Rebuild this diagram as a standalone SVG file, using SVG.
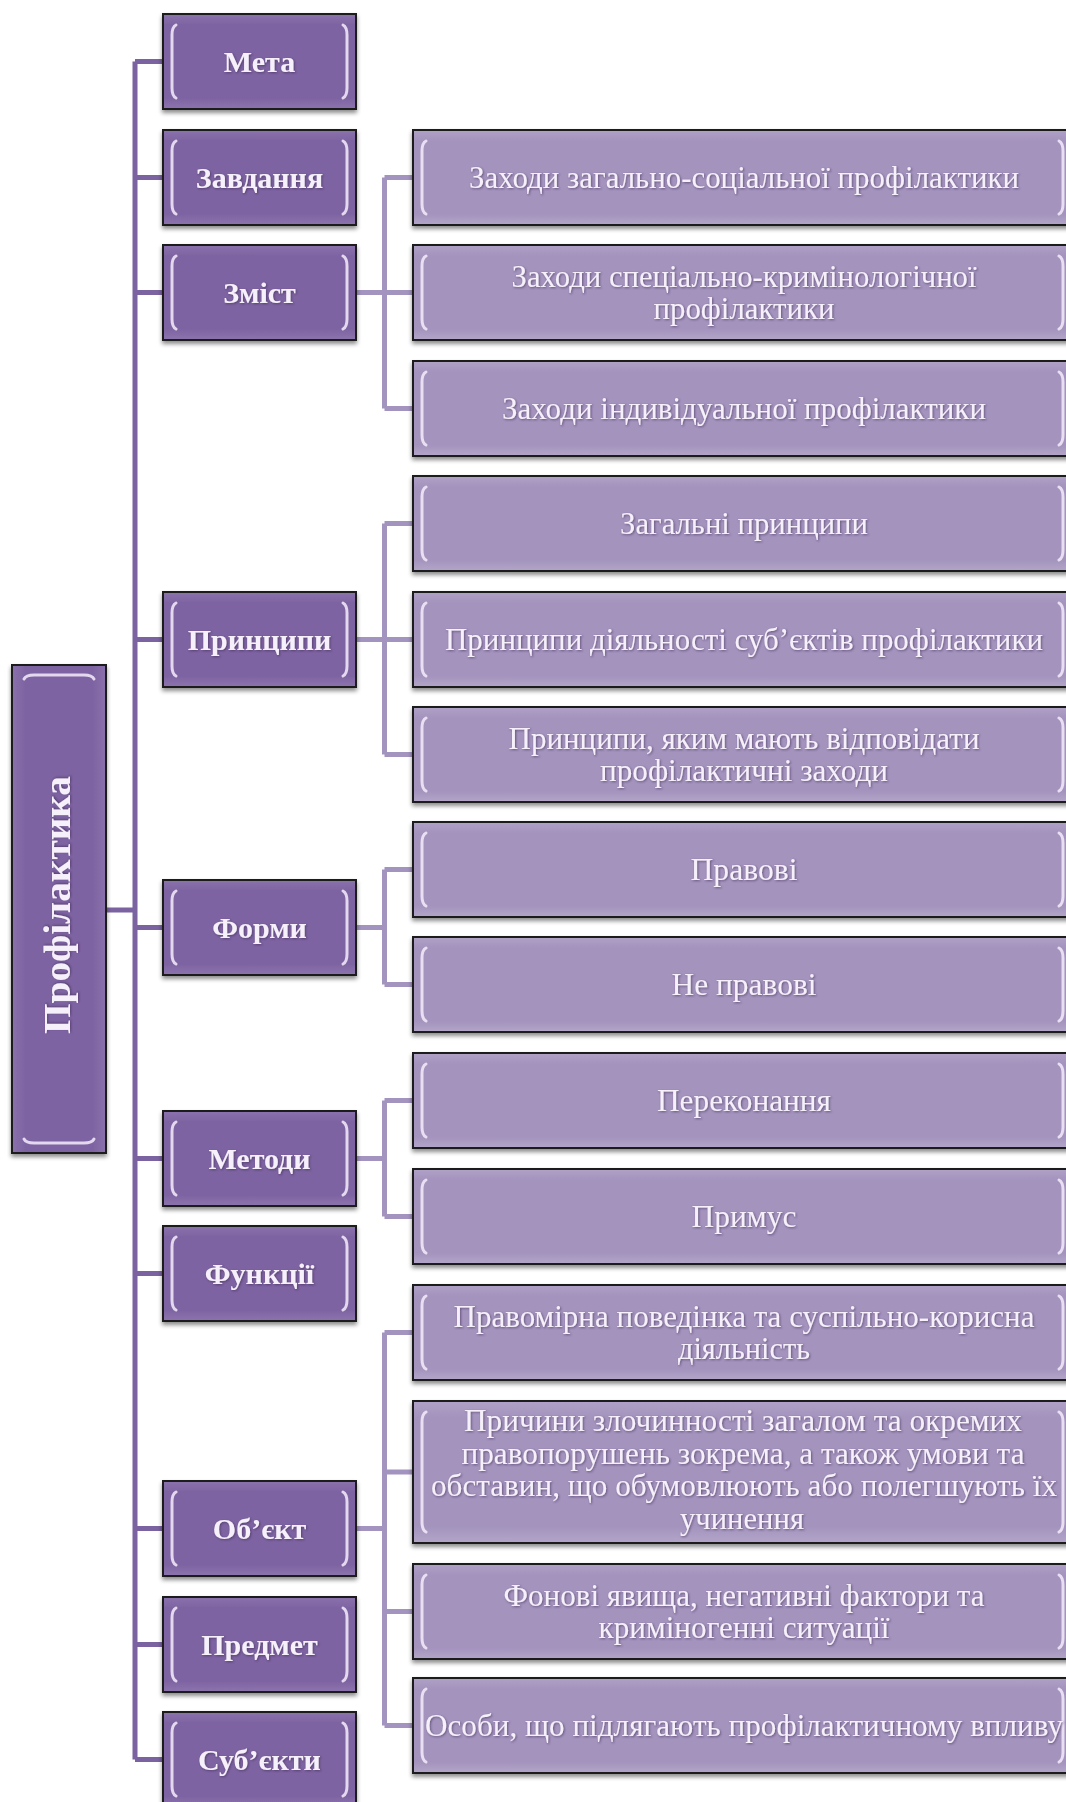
<svg xmlns="http://www.w3.org/2000/svg" width="1066" height="1802" viewBox="0 0 1066 1802">
<defs>
<filter id="sh" x="-5%" y="-10%" width="110%" height="125%">
<feDropShadow dx="0" dy="3" stdDeviation="2" flood-color="#000" flood-opacity="0.45"/>
</filter>
<filter id="ts" x="-5%" y="-20%" width="110%" height="140%">
<feDropShadow dx="1" dy="1" stdDeviation="0.8" flood-color="#3a2850" flood-opacity="0.6"/>
</filter>
<linearGradient id="gl" x1="0" y1="0" x2="0" y2="1">
<stop offset="0" stop-color="#8b72ad"/>
<stop offset="0.12" stop-color="#7d63a1"/>
<stop offset="0.88" stop-color="#7d63a1"/>
<stop offset="1" stop-color="#8d74ae"/>
</linearGradient>
<linearGradient id="gr" x1="0" y1="0" x2="0" y2="1">
<stop offset="0" stop-color="#b0a1c7"/>
<stop offset="0.12" stop-color="#a393bd"/>
<stop offset="0.88" stop-color="#a393bd"/>
<stop offset="1" stop-color="#b3a5c9"/>
</linearGradient>
<linearGradient id="gv" x1="0" y1="0" x2="1" y2="0">
<stop offset="0" stop-color="#8a70ac"/>
<stop offset="0.15" stop-color="#7d63a1"/>
<stop offset="0.85" stop-color="#7d63a1"/>
<stop offset="1" stop-color="#8a70ac"/>
</linearGradient>
</defs>
<style>
.lb{fill:url(#gl);stroke:#1c1c1c;stroke-width:2;filter:url(#sh)}
.rb{fill:url(#gr);stroke:#1c1c1c;stroke-width:2;filter:url(#sh)}
.vb{fill:url(#gv);stroke:#1c1c1c;stroke-width:2;filter:url(#sh)}
.hl{fill:none;stroke:#f4ecfc;stroke-width:3;stroke-linecap:round;opacity:0.85}
.lt{font-family:"Liberation Serif","Times New Roman",serif;font-weight:bold;font-size:30px;fill:#f6f0fb;text-anchor:middle;filter:url(#ts)}
.rt{font-family:"Liberation Serif","Times New Roman",serif;font-size:31px;fill:#f6f0fb;text-anchor:middle;filter:url(#ts)}
.vt{font-family:"Liberation Serif","Times New Roman",serif;font-weight:bold;font-size:38px;fill:#f6f0fb;text-anchor:middle;filter:url(#ts)}
.c1{fill:none;stroke:#7b62a0;stroke-width:5}
.c2{fill:none;stroke:#a393bf;stroke-width:5}
</style>

<g id="connectors">
<path class="c1" d="M135 61.5 V1759.5 M106 910 H135 M135 61.5 H163 M135 177.5 H163 M135 292.5 H163 M135 639.5 H163 M135 927.5 H163 M135 1158.5 H163 M135 1273.5 H163 M135 1528.5 H163 M135 1644.5 H163 M135 1759.5 H163"/>
<path class="c2" d="M356 292.5 H384.5 M384.5 177.5 V408.5 M384.5 177.5 H413 M384.5 292.5 H413 M384.5 408.5 H413"/>
<path class="c2" d="M356 639.5 H384.5 M384.5 523.5 V754.5 M384.5 523.5 H413 M384.5 639.5 H413 M384.5 754.5 H413"/>
<path class="c2" d="M356 927.5 H384.5 M384.5 869.5 V984.5 M384.5 869.5 H413 M384.5 984.5 H413"/>
<path class="c2" d="M356 1158.5 H384.5 M384.5 1100.5 V1216.5 M384.5 1100.5 H413 M384.5 1216.5 H413"/>
<path class="c2" d="M356 1528.5 H384.5 M384.5 1332.5 V1725.5 M384.5 1332.5 H413 M384.5 1472 H413 M384.5 1611.5 H413 M384.5 1725.5 H413"/>
</g>

<g id="n-profilaktyka">
<rect class="vb" x="12" y="665" width="94" height="488"/>
<path class="hl" d="M24 679 Q26 675 34 675 H84 Q92 675 94 679"/>
<path class="hl" d="M24 1139 Q26 1143 34 1143 H84 Q92 1143 94 1139"/>
<text class="vt" transform="translate(70 905) rotate(-90)" x="0" y="0" textLength="258" lengthAdjust="spacingAndGlyphs">Профілактика</text>
</g>

<g id="n-meta" transform="translate(0 14)">
<rect class="lb" x="163" y="0" width="193" height="95"/>
<path class="hl" d="M176 11 Q172 13 172 21 V74 Q172 82 176 84"/>
<path class="hl" d="M343 11 Q347 13 347 21 V74 Q347 82 343 84"/>
<text class="lt" x="259.5" y="57.5">Мета</text>
</g>
<g id="n-zavdannia" transform="translate(0 130)">
<rect class="lb" x="163" y="0" width="193" height="95"/>
<path class="hl" d="M176 11 Q172 13 172 21 V74 Q172 82 176 84"/>
<path class="hl" d="M343 11 Q347 13 347 21 V74 Q347 82 343 84"/>
<text class="lt" x="259.5" y="57.5">Завдання</text>
</g>
<g id="n-zmist" transform="translate(0 245)">
<rect class="lb" x="163" y="0" width="193" height="95"/>
<path class="hl" d="M176 11 Q172 13 172 21 V74 Q172 82 176 84"/>
<path class="hl" d="M343 11 Q347 13 347 21 V74 Q347 82 343 84"/>
<text class="lt" x="259.5" y="57.5">Зміст</text>
</g>
<g id="n-pryntsypy" transform="translate(0 592)">
<rect class="lb" x="163" y="0" width="193" height="95"/>
<path class="hl" d="M176 11 Q172 13 172 21 V74 Q172 82 176 84"/>
<path class="hl" d="M343 11 Q347 13 347 21 V74 Q347 82 343 84"/>
<text class="lt" x="259.5" y="57.5">Принципи</text>
</g>
<g id="n-formy" transform="translate(0 880)">
<rect class="lb" x="163" y="0" width="193" height="95"/>
<path class="hl" d="M176 11 Q172 13 172 21 V74 Q172 82 176 84"/>
<path class="hl" d="M343 11 Q347 13 347 21 V74 Q347 82 343 84"/>
<text class="lt" x="259.5" y="57.5">Форми</text>
</g>
<g id="n-metody" transform="translate(0 1111)">
<rect class="lb" x="163" y="0" width="193" height="95"/>
<path class="hl" d="M176 11 Q172 13 172 21 V74 Q172 82 176 84"/>
<path class="hl" d="M343 11 Q347 13 347 21 V74 Q347 82 343 84"/>
<text class="lt" x="259.5" y="57.5">Методи</text>
</g>
<g id="n-funktsii" transform="translate(0 1226)">
<rect class="lb" x="163" y="0" width="193" height="95"/>
<path class="hl" d="M176 11 Q172 13 172 21 V74 Q172 82 176 84"/>
<path class="hl" d="M343 11 Q347 13 347 21 V74 Q347 82 343 84"/>
<text class="lt" x="259.5" y="57.5">Функції</text>
</g>
<g id="n-obiekt" transform="translate(0 1481)">
<rect class="lb" x="163" y="0" width="193" height="95"/>
<path class="hl" d="M176 11 Q172 13 172 21 V74 Q172 82 176 84"/>
<path class="hl" d="M343 11 Q347 13 347 21 V74 Q347 82 343 84"/>
<text class="lt" x="259.5" y="57.5">Об’єкт</text>
</g>
<g id="n-predmet" transform="translate(0 1597)">
<rect class="lb" x="163" y="0" width="193" height="95"/>
<path class="hl" d="M176 11 Q172 13 172 21 V74 Q172 82 176 84"/>
<path class="hl" d="M343 11 Q347 13 347 21 V74 Q347 82 343 84"/>
<text class="lt" x="259.5" y="57.5">Предмет</text>
</g>
<g id="n-subiekty" transform="translate(0 1712)">
<rect class="lb" x="163" y="0" width="193" height="95"/>
<path class="hl" d="M176 11 Q172 13 172 21 V74 Q172 82 176 84"/>
<path class="hl" d="M343 11 Q347 13 347 21 V74 Q347 82 343 84"/>
<text class="lt" x="259.5" y="57.5">Суб’єкти</text>
</g>

<g id="n-zahalno-sotsialnoi" transform="translate(0 130)">
<rect class="rb" x="413" y="0" width="659" height="95"/>
<path class="hl" d="M426 11 Q422 13 422 21 V74 Q422 82 426 84"/>
<path class="hl" d="M1059 11 Q1063 13 1063 21 V74 Q1063 82 1059 84"/>
<text class="rt" x="744" y="57.5" textLength="550" lengthAdjust="spacingAndGlyphs">Заходи загально-соціальної  профілактики</text>
</g>
<g id="n-spetsialno-kryminolohichnoi" transform="translate(0 245)">
<rect class="rb" x="413" y="0" width="659" height="95"/>
<path class="hl" d="M426 11 Q422 13 422 21 V74 Q422 82 426 84"/>
<path class="hl" d="M1059 11 Q1063 13 1063 21 V74 Q1063 82 1059 84"/>
<text class="rt" x="744" y="41.5" textLength="465" lengthAdjust="spacingAndGlyphs">Заходи спеціально-кримінологічної</text>
<text class="rt" x="744" y="73.5" textLength="181" lengthAdjust="spacingAndGlyphs">профілактики</text>
</g>
<g id="n-indyvidualnoi" transform="translate(0 361)">
<rect class="rb" x="413" y="0" width="659" height="95"/>
<path class="hl" d="M426 11 Q422 13 422 21 V74 Q422 82 426 84"/>
<path class="hl" d="M1059 11 Q1063 13 1063 21 V74 Q1063 82 1059 84"/>
<text class="rt" x="744" y="57.5" textLength="484" lengthAdjust="spacingAndGlyphs">Заходи індивідуальної  профілактики</text>
</g>
<g id="n-zahalni-pryntsypy" transform="translate(0 476)">
<rect class="rb" x="413" y="0" width="659" height="95"/>
<path class="hl" d="M426 11 Q422 13 422 21 V74 Q422 82 426 84"/>
<path class="hl" d="M1059 11 Q1063 13 1063 21 V74 Q1063 82 1059 84"/>
<text class="rt" x="744" y="57.5" textLength="248" lengthAdjust="spacingAndGlyphs">Загальні  принципи</text>
</g>
<g id="n-pryntsypy-diialnosti" transform="translate(0 592)">
<rect class="rb" x="413" y="0" width="659" height="95"/>
<path class="hl" d="M426 11 Q422 13 422 21 V74 Q422 82 426 84"/>
<path class="hl" d="M1059 11 Q1063 13 1063 21 V74 Q1063 82 1059 84"/>
<text class="rt" x="744" y="57.5" textLength="598" lengthAdjust="spacingAndGlyphs">Принципи  діяльності  суб’єктів профілактики</text>
</g>
<g id="n-pryntsypy-zakhody" transform="translate(0 707)">
<rect class="rb" x="413" y="0" width="659" height="95"/>
<path class="hl" d="M426 11 Q422 13 422 21 V74 Q422 82 426 84"/>
<path class="hl" d="M1059 11 Q1063 13 1063 21 V74 Q1063 82 1059 84"/>
<text class="rt" x="744" y="41.5" textLength="471" lengthAdjust="spacingAndGlyphs">Принципи, яким мають відповідати</text>
<text class="rt" x="744" y="73.5" textLength="288" lengthAdjust="spacingAndGlyphs">профілактичні заходи</text>
</g>
<g id="n-pravovi" transform="translate(0 822)">
<rect class="rb" x="413" y="0" width="659" height="95"/>
<path class="hl" d="M426 11 Q422 13 422 21 V74 Q422 82 426 84"/>
<path class="hl" d="M1059 11 Q1063 13 1063 21 V74 Q1063 82 1059 84"/>
<text class="rt" x="744" y="57.5" textLength="107" lengthAdjust="spacingAndGlyphs">Правові</text>
</g>
<g id="n-ne-pravovi" transform="translate(0 937)">
<rect class="rb" x="413" y="0" width="659" height="95"/>
<path class="hl" d="M426 11 Q422 13 422 21 V74 Q422 82 426 84"/>
<path class="hl" d="M1059 11 Q1063 13 1063 21 V74 Q1063 82 1059 84"/>
<text class="rt" x="744" y="57.5" textLength="145" lengthAdjust="spacingAndGlyphs">Не правові</text>
</g>
<g id="n-perekonannia" transform="translate(0 1053)">
<rect class="rb" x="413" y="0" width="659" height="95"/>
<path class="hl" d="M426 11 Q422 13 422 21 V74 Q422 82 426 84"/>
<path class="hl" d="M1059 11 Q1063 13 1063 21 V74 Q1063 82 1059 84"/>
<text class="rt" x="744" y="57.5" textLength="174" lengthAdjust="spacingAndGlyphs">Переконання</text>
</g>
<g id="n-prymus" transform="translate(0 1169)">
<rect class="rb" x="413" y="0" width="659" height="95"/>
<path class="hl" d="M426 11 Q422 13 422 21 V74 Q422 82 426 84"/>
<path class="hl" d="M1059 11 Q1063 13 1063 21 V74 Q1063 82 1059 84"/>
<text class="rt" x="744" y="57.5" textLength="105" lengthAdjust="spacingAndGlyphs">Примус</text>
</g>
<g id="n-pravomirna" transform="translate(0 1285)">
<rect class="rb" x="413" y="0" width="659" height="95"/>
<path class="hl" d="M426 11 Q422 13 422 21 V74 Q422 82 426 84"/>
<path class="hl" d="M1059 11 Q1063 13 1063 21 V74 Q1063 82 1059 84"/>
<text class="rt" x="744" y="41.5" textLength="581" lengthAdjust="spacingAndGlyphs">Правомірна поведінка та суспільно-корисна</text>
<text class="rt" x="744" y="73.5" textLength="132" lengthAdjust="spacingAndGlyphs">діяльність</text>
</g>
<g id="n-prychyny" transform="translate(0 1401)">
<rect class="rb" x="413" y="0" width="659" height="142"/>
<path class="hl" d="M426 11 Q422 13 422 21 V121 Q422 129 426 131"/>
<path class="hl" d="M1059 11 Q1063 13 1063 21 V121 Q1063 129 1059 131"/>
<text class="rt" x="743" y="30" textLength="558" lengthAdjust="spacingAndGlyphs">Причини злочинності загалом та окремих</text>
<text class="rt" x="743" y="62.5" textLength="563" lengthAdjust="spacingAndGlyphs">правопорушень зокрема, а також умови та</text>
<text class="rt" x="744" y="95" textLength="626" lengthAdjust="spacingAndGlyphs">обставин, що обумовлюють або полегшують їх</text>
<text class="rt" x="742" y="127.5" textLength="124" lengthAdjust="spacingAndGlyphs">учинення</text>
</g>
<g id="n-fonovi" transform="translate(0 1564)">
<rect class="rb" x="413" y="0" width="659" height="95"/>
<path class="hl" d="M426 11 Q422 13 422 21 V74 Q422 82 426 84"/>
<path class="hl" d="M1059 11 Q1063 13 1063 21 V74 Q1063 82 1059 84"/>
<text class="rt" x="744" y="41.5" textLength="481" lengthAdjust="spacingAndGlyphs">Фонові явища, негативні фактори та</text>
<text class="rt" x="744" y="73.5" textLength="291" lengthAdjust="spacingAndGlyphs">криміногенні  ситуації</text>
</g>
<g id="n-osoby" transform="translate(0 1678)">
<rect class="rb" x="413" y="0" width="659" height="95"/>
<path class="hl" d="M426 11 Q422 13 422 21 V74 Q422 82 426 84"/>
<path class="hl" d="M1059 11 Q1063 13 1063 21 V74 Q1063 82 1059 84"/>
<text class="rt" x="744" y="57.5" textLength="638" lengthAdjust="spacingAndGlyphs">Особи, що підлягають профілактичному впливу</text>
</g>
</svg>
